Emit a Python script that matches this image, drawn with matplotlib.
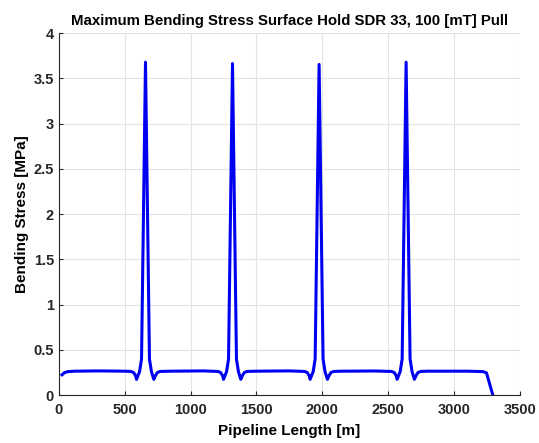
import numpy as np
import matplotlib
matplotlib.use('Agg')
from matplotlib import pyplot as plt

plt.rcParams['font.family'] = ['Liberation Sans', 'DejaVu Sans']
plt.rcParams['font.weight'] = 'bold'

# pipeline position [m] and max bending stress [MPa]
length_m = [25, 45, 70, 120, 300, 500,
            548, 568, 583, 590, 613, 628, 658, 688, 703, 721, 733, 748, 768,
            850, 1100,
            1208, 1228, 1243, 1250, 1273, 1288, 1318, 1348, 1363, 1381, 1393, 1408, 1428,
            1500, 1750,
            1865, 1885, 1900, 1907, 1930, 1945, 1975, 2005, 2020, 2038, 2050, 2065, 2085,
            2150, 2400,
            2525, 2545, 2560, 2567, 2590, 2605, 2635, 2665, 2680, 2698, 2710, 2725, 2745,
            2800, 3100, 3220, 3245, 3293]
stress_mpa = [0.225, 0.25, 0.26, 0.265, 0.268, 0.265,
              0.262, 0.25, 0.215, 0.175, 0.26, 0.40, 3.68, 0.40, 0.26, 0.175, 0.215, 0.25, 0.262,
              0.265, 0.268,
              0.262, 0.25, 0.215, 0.175, 0.26, 0.40, 3.665, 0.40, 0.26, 0.175, 0.215, 0.25, 0.262,
              0.265, 0.268,
              0.262, 0.25, 0.215, 0.175, 0.26, 0.40, 3.655, 0.40, 0.26, 0.175, 0.215, 0.25, 0.262,
              0.265, 0.267,
              0.262, 0.25, 0.215, 0.175, 0.26, 0.40, 3.68, 0.40, 0.26, 0.175, 0.215, 0.25, 0.262,
              0.265, 0.265, 0.26, 0.245, 0.0]

xticks = np.arange(0, 3501, 500)
yticks = [0, 0.5, 1, 1.5, 2, 2.5, 3, 3.5, 4]
ytick_labels = ['0', '0.5', '1', '1.5', '2', '2.5', '3', '3.5', '4']

fig = plt.figure(figsize=(5.39, 4.43), dpi=100)
ax = fig.add_axes([0.109, 0.108, 0.856, 0.817])
ax.plot(length_m, stress_mpa, color='#0000f0', linewidth=2.2)

ax.set_xlim(0, 3500)
ax.set_ylim(0, 4)
ax.set_xticks(xticks)
ax.set_yticks(yticks)
ax.set_yticklabels(ytick_labels)
ax.grid(True, color='#e3e3e3', linewidth=0.8)
ax.set_axisbelow(True)
ax.spines['top'].set_visible(False)
ax.spines['right'].set_visible(False)
ax.spines['left'].set_color('#262626')
ax.spines['bottom'].set_color('#262626')
ax.tick_params(direction='in', length=3, labelsize=10.5, colors='#262626')
ax.tick_params(axis='x', pad=6)

ax.set_xlabel('Pipeline Length [m]', fontsize=11, fontweight='bold', labelpad=5)
ax.set_ylabel('Bending Stress [MPa]', fontsize=11, fontweight='bold', labelpad=3)
ax.set_title('Maximum Bending Stress Surface Hold SDR 33, 100 [mT] Pull',
             fontsize=10.8, fontweight='bold', pad=6)

fig.savefig('out.png', dpi=100)
